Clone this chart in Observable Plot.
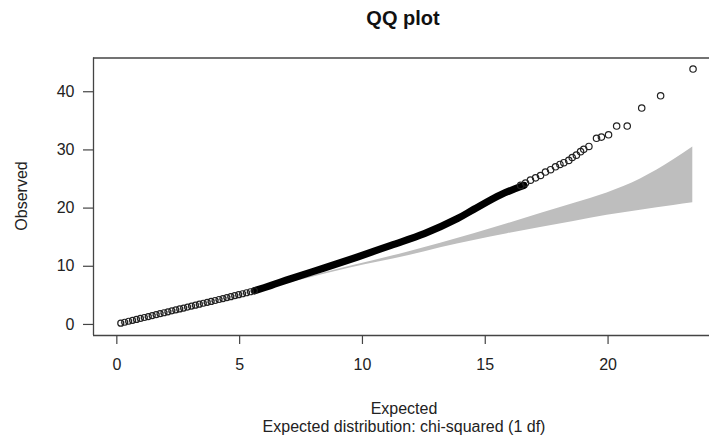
<!DOCTYPE html>
<html>
<head>
<meta charset="utf-8">
<script src="https://cdn.jsdelivr.net/npm/d3@7"></script>
<script src="https://cdn.jsdelivr.net/npm/@observablehq/plot@0.6"></script>
<style>
  html, body { margin: 0; padding: 0; background: #fff; overflow: hidden; }
  #chart { width: 709px; height: 441px; }
</style>
</head>
<body>
<div id="chart"></div>
<script>
// ---- Data ----
// sparse (thinned) low-end points
const lowExpected = [0.16,0.32,0.48,0.64,0.80,0.96,1.12,1.28,1.44,1.60,1.76,1.92,2.08,2.24,2.40,2.56,2.72,2.88,3.04,3.20,3.36,3.52,3.68,3.84,4.00,4.16,4.32,4.48,4.64,4.80,4.96,5.12,5.28,5.44,5.60];
const lowObserved = [0.22,0.38,0.55,0.71,0.87,1.03,1.19,1.36,1.52,1.68,1.85,2.01,2.17,2.34,2.50,2.66,2.82,2.99,3.15,3.31,3.48,3.64,3.80,3.96,4.12,4.29,4.45,4.62,4.78,4.95,5.11,5.28,5.45,5.62,5.79];
// dense (overplotted) middle section, traced along its centre
const denseExpected = [5.60, 6.27, 7.08, 8.44, 9.80, 11.16, 12.52, 13.87, 14.54, 15.63, 16.58];
const denseObserved = [5.79, 6.70, 7.86, 9.70, 11.60, 13.60, 15.60, 18.20, 19.80, 22.30, 23.90];
// upper tail points
const tailExpected = [16.44,16.64,16.84,17.05,17.25,17.45,17.66,17.86,18.04,18.20,18.40,18.54,18.71,18.88,19.01,19.22,19.53,19.73,20.02,20.35,20.78,21.37,22.14,23.46];
const tailObserved = [23.9,24.3,24.8,25.2,25.6,26.2,26.6,27.1,27.5,27.8,28.2,28.7,29.1,29.7,30.1,30.6,32.0,32.2,32.6,34.1,34.1,37.2,39.3,43.9];
// concentration band
const bandExpected = [0.15, 5.0, 9.5, 11.9, 13.18, 14.54, 15.9, 17.25, 18.6, 19.96, 21.32, 22.67, 23.45];
const bandLower    = [0.10, 4.95, 9.7, 11.85, 13.2, 14.45, 15.6, 16.65, 17.7, 18.75, 19.65, 20.45, 20.9];
const bandUpper    = [0.20, 5.2, 10.0, 12.5, 13.95, 15.6, 17.3, 19.05, 20.8, 22.6, 25.0, 28.3, 30.5];
// axes
const xTicks = [0, 5, 10, 15, 20];
const yTicks = [0, 10, 20, 30, 40];
const xDomain = [-0.95, 24.13];
const yDomain = [-1.9, 45.8];
const titleText = "QQ plot";
const xLabel = "Expected";
const yLabel = "Observed";
const subText = "Expected distribution: chi-squared (1 df)";

// ---- Build tables ----
const lowPts = lowExpected.map((e, i) => ({e, o: lowObserved[i]}));
const densePts = denseExpected.map((e, i) => ({e, o: denseObserved[i]}));
const tailPts = tailExpected.map((e, i) => ({e, o: tailObserved[i]}));
const band = bandExpected.map((e, i) => ({e, lo: bandLower[i], hi: bandUpper[i]}));

const font = "'Liberation Sans', Arial, Helvetica, sans-serif";

const plot = Plot.plot({
  width: 709,
  height: 441,
  marginLeft: 93,
  marginRight: 0,
  marginTop: 57.5,
  marginBottom: 106,
  style: {fontFamily: font, fontSize: "16px", color: "#222", background: "#fff", overflow: "visible"},
  x: {domain: xDomain, label: null},
  y: {domain: yDomain, label: null},
  marks: [
    Plot.areaY(band, {x: "e", y1: "lo", y2: "hi", fill: "#bebebe", curve: "monotone-x"}),
    Plot.line(densePts, {x: "e", y: "o", stroke: "#000", strokeWidth: 7.2, strokeLinecap: "round", strokeLinejoin: "round", curve: "catmull-rom"}),
    Plot.dot(lowPts, {x: "e", y: "o", r: 3, stroke: "#222", strokeWidth: 1.2, fill: "none"}),
    Plot.dot(tailPts, {x: "e", y: "o", r: 3.2, stroke: "#222", strokeWidth: 1.2, fill: "none"}),
    Plot.ruleY([yDomain[0], yDomain[1]], {stroke: "#444", strokeWidth: 1.3}),
    Plot.ruleX([xDomain[0]], {stroke: "#444", strokeWidth: 1.3}),
    Plot.axisX({ticks: xTicks, tickSize: 9, tickPadding: 14, stroke: "#444", strokeWidth: 1.2, label: null, fill: "#222"}),
    Plot.axisY({ticks: yTicks, tickSize: 10, tickPadding: 9, stroke: "#444", strokeWidth: 1.2, label: null, fill: "#222"})
  ]
});

document.getElementById("chart").appendChild(plot);

const svg = d3.select(plot);
svg.append("text").attr("x", 403).attr("y", 25).attr("text-anchor", "middle")
  .attr("font-family", font).attr("font-size", 20).attr("font-weight", "bold").attr("fill", "#111")
  .text(titleText);
svg.append("text").attr("x", 404).attr("y", 414).attr("text-anchor", "middle")
  .attr("font-family", font).attr("font-size", 16).attr("fill", "#222")
  .text(xLabel);
svg.append("text").attr("x", 404).attr("y", 432).attr("text-anchor", "middle")
  .attr("font-family", font).attr("font-size", 16).attr("fill", "#222")
  .text(subText);
svg.append("text").attr("transform", "translate(27,196) rotate(-90)").attr("text-anchor", "middle")
  .attr("font-family", font).attr("font-size", 16).attr("fill", "#222")
  .text(yLabel);
</script>
</body>
</html>
